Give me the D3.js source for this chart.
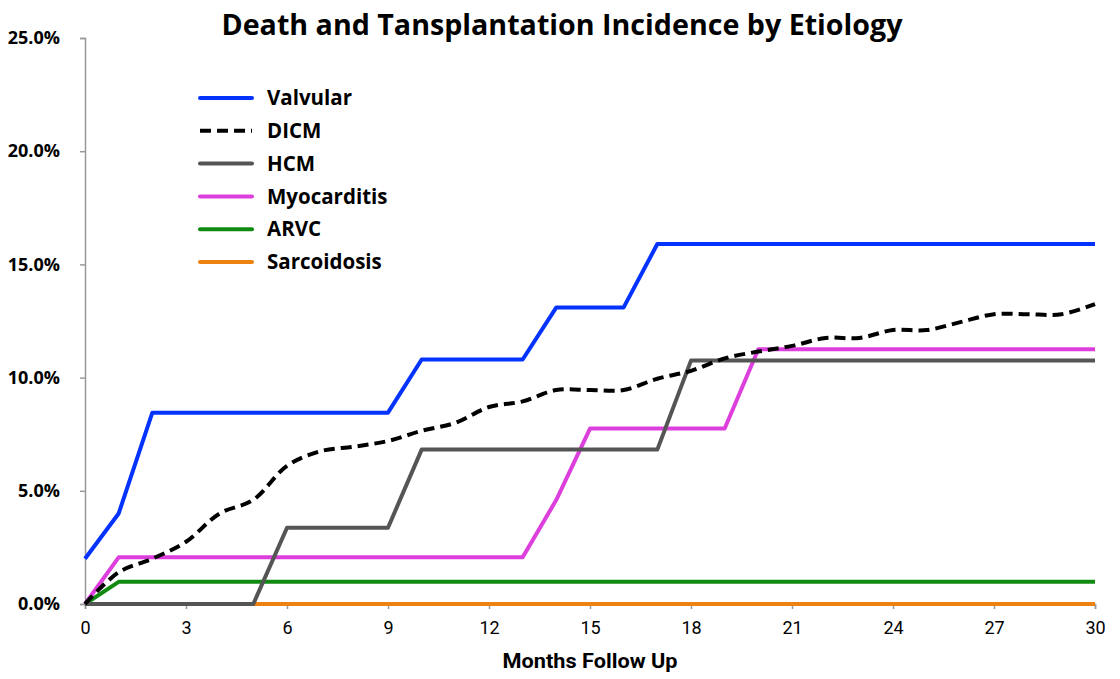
<!DOCTYPE html>
<html>
<head>
<meta charset="utf-8">
<script src="https://cdn.jsdelivr.net/npm/d3@7"></script>
<style>
  body { margin: 0; background: #fff; }
  text { font-family: "Open Sans", "DejaVu Sans", sans-serif; }
</style>
</head>
<body>
<div id="chart"></div>
<script>
// months on the x axis
var months = d3.range(0, 31);

// cumulative incidence (%) per etiology, one value per month
var valvular = [2.0, 4.0, 8.45, 8.45, 8.45, 8.45, 8.45, 8.45, 8.45, 8.45,
  10.8, 10.8, 10.8, 10.8, 13.1, 13.1, 13.1, 15.9, 15.9, 15.9,
  15.9, 15.9, 15.9, 15.9, 15.9, 15.9, 15.9, 15.9, 15.9, 15.9, 15.9];
var dicm = [0, 1.4, 2.0, 2.75, 4.0, 4.6, 6.1, 6.75, 6.95, 7.2,
  7.65, 8.0, 8.7, 8.95, 9.45, 9.45, 9.45, 9.95, 10.3, 10.85,
  11.15, 11.4, 11.75, 11.75, 12.1, 12.1, 12.45, 12.8, 12.8, 12.8, 13.25];
var hcm = [0, 0, 0, 0, 0, 0, 3.37, 3.37, 3.37, 3.37,
  6.82, 6.82, 6.82, 6.82, 6.82, 6.82, 6.82, 6.82, 10.75, 10.75,
  10.75, 10.75, 10.75, 10.75, 10.75, 10.75, 10.75, 10.75, 10.75, 10.75, 10.75];
var myocarditis = [0, 2.06, 2.06, 2.06, 2.06, 2.06, 2.06, 2.06, 2.06, 2.06,
  2.06, 2.06, 2.06, 2.06, 4.6, 7.75, 7.75, 7.75, 7.75, 7.75,
  11.25, 11.25, 11.25, 11.25, 11.25, 11.25, 11.25, 11.25, 11.25, 11.25, 11.25];
var arvc = [0, 0.98, 0.98, 0.98, 0.98, 0.98, 0.98, 0.98, 0.98, 0.98,
  0.98, 0.98, 0.98, 0.98, 0.98, 0.98, 0.98, 0.98, 0.98, 0.98,
  0.98, 0.98, 0.98, 0.98, 0.98, 0.98, 0.98, 0.98, 0.98, 0.98, 0.98];
var sarcoidosis = months.map(function () { return 0; });

var seriesNames = ["Valvular", "DICM", "HCM", "Myocarditis", "ARVC", "Sarcoidosis"];
var seriesValues = [valvular, dicm, hcm, myocarditis, arvc, sarcoidosis];
var seriesColors = ["#0433ff", "#000000", "#555555", "#dd3fdd", "#118a11", "#ee8210"];

var xTicks = d3.range(0, 31, 3);
var yTicks = [0, 5, 10, 15, 20, 25];

// set the dimensions and margins of the graph
var margin = {top: 38, right: 25, bottom: 75, left: 85},
  width = 1120 - margin.left - margin.right,
  height = 679 - margin.top - margin.bottom;

var svg = d3.select("#chart")
.append("svg")
  .attr("width", 1120)
  .attr("height", 679)
.append("g")
  .attr("transform", "translate(" + margin.left + "," + margin.top + ")");

var x = d3.scaleLinear().domain([0, 30]).range([0, width]);
var y = d3.scaleLinear().domain([0, 25]).range([height, 0]);

// title
svg.append("text")
  .attr("x", 562 - margin.left)
  .attr("y", 35 - margin.top)
  .attr("text-anchor", "middle")
  .attr("textLength", 681)
  .attr("lengthAdjust", "spacingAndGlyphs")
  .style("font-size", "28px")
  .style("font-weight", "bold")
  .text("Death and Tansplantation Incidence by Etiology");

// y axis
var yAxis = svg.append("g")
  .call(d3.axisLeft(y).tickValues(yTicks).tickSize(5).tickPadding(20)
    .tickFormat(function (d) { return d3.format(".1f")(d) + "%"; }));
yAxis.attr("font-size", 18);
yAxis.select(".domain").attr("stroke", "#999").attr("stroke-width", 1.5);
yAxis.selectAll(".tick line").attr("stroke", "#999").attr("stroke-width", 1.5);
yAxis.selectAll(".tick text")
  .attr("font-size", 18)
  .attr("font-weight", "bold")
  .attr("font-family", "'Open Sans', sans-serif")
  .attr("fill", "#000");

// x axis
var xAxis = svg.append("g")
  .attr("transform", "translate(0," + height + ")")
  .call(d3.axisBottom(x).tickValues(xTicks).tickSize(5).tickPadding(12));
xAxis.select(".domain").attr("stroke", "#999").attr("stroke-width", 1.5);
xAxis.selectAll(".tick line").attr("stroke", "#999").attr("stroke-width", 1.5);
xAxis.selectAll("text")
  .style("font-size", "18px")
  .style("font-family", "'Liberation Sans Narrow', 'Roboto', sans-serif")
  .attr("fill", "#000");

// x axis title
svg.append("text")
  .attr("x", 590 - margin.left)
  .attr("y", 668 - margin.top)
  .attr("text-anchor", "middle")
  .attr("textLength", 175)
  .attr("lengthAdjust", "spacingAndGlyphs")
  .style("font-size", "20px")
  .style("font-weight", "bold")
  .style("font-family", "'Liberation Sans Narrow', 'Roboto', sans-serif")
  .text("Months Follow Up");

// lines, drawn from bottom series up so blue stays on top
var straight = d3.line()
  .x(function (d, i) { return x(months[i]); })
  .y(function (d) { return y(d); });
var smooth = d3.line()
  .curve(d3.curveCatmullRom.alpha(0.5))
  .x(function (d, i) { return x(months[i]); })
  .y(function (d) { return y(d); });

var order = [5, 4, 3, 2, 1, 0];
order.forEach(function (k) {
  svg.append("path")
    .datum(seriesValues[k])
    .attr("fill", "none")
    .attr("stroke", seriesColors[k])
    .attr("stroke-width", 4)
    .attr("stroke-linejoin", "round")
    .attr("stroke-dasharray", k === 1 ? "11,6" : null)
    .attr("d", k === 1 ? smooth : straight);
});

// legend
var legend = svg.selectAll(".legend")
  .data(seriesNames)
  .enter().append("g")
  .attr("class", "legend")
  .attr("transform", function (d, i) {
    return "translate(" + (200 - margin.left) + "," + (98 + i * 32.8 - margin.top) + ")";
  });

legend.append("line")
  .attr("x1", 0).attr("x2", 52)
  .attr("stroke", function (d, i) { return seriesColors[i]; })
  .attr("stroke-width", 4)
  .attr("stroke-linecap", function (d, i) { return i === 1 ? "butt" : "round"; })
  .attr("stroke-dasharray", function (d, i) { return i === 1 ? "11,6" : null; });

legend.append("text")
  .attr("x", 67)
  .attr("dy", "0.35em")
  .style("font-size", "20.5px")
  .style("font-weight", "bold")
  .text(function (d) { return d; });
</script>
</body>
</html>
